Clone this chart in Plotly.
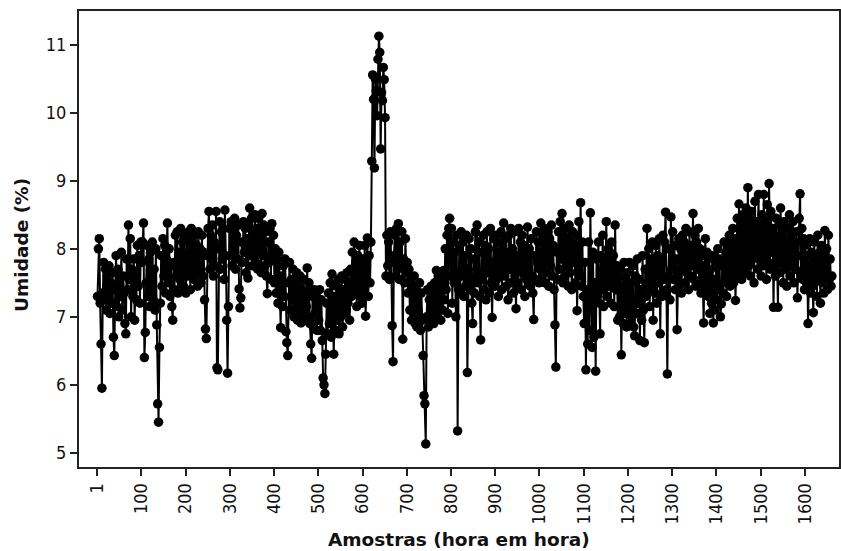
import plotly.graph_objects as go

# Sample index (every second hourly sample)
amostras = list(range(1, 1662, 2))

# Moisture values (%), 10 values per row (20 samples)
umidade = [
    # 1 - 99
    7.30, 8.00, 8.15, 7.20, 6.60, 5.95, 7.35, 7.80, 7.25, 7.70,
    7.10, 7.60, 7.35, 7.75, 7.05, 7.50, 7.20, 7.65, 6.70, 6.43,
    7.40, 7.90, 7.15, 7.70, 7.00, 7.55, 7.30, 7.95, 7.10, 7.60,
    7.35, 6.90, 6.75, 7.85, 7.40, 8.35, 7.55, 8.15, 7.00, 7.70,
    7.30, 7.85, 6.95, 7.60, 7.25, 8.05, 7.45, 7.90, 7.20, 8.10,
    # 101 - 199
    7.80, 8.10, 8.38, 6.40, 6.77, 7.50, 8.05, 7.30, 7.85, 7.15,
    7.95, 7.40, 8.10, 7.25, 7.70, 7.10, 8.00, 6.88, 5.72, 5.45,
    6.55, 7.20, 7.90, 7.45, 8.15, 7.60, 8.05, 7.35, 7.85, 8.38,
    7.50, 8.00, 7.30, 7.75, 7.15, 6.95, 7.80, 7.40, 8.20, 7.60,
    8.25, 7.35, 7.95, 7.55, 8.30, 7.70, 8.10, 7.45, 8.20, 7.65,
    # 201 - 299
    7.35, 8.15, 7.60, 8.25, 7.80, 7.40, 8.30, 7.70, 8.10, 7.55,
    8.20, 7.65, 8.05, 7.45, 8.25, 7.75, 8.00, 7.50, 8.20, 7.60,
    7.95, 7.25, 6.82, 6.68, 7.90, 8.30, 8.55, 7.70, 8.20, 7.85,
    8.35, 7.60, 8.10, 7.75, 8.55, 6.25, 6.22, 8.00, 8.40, 7.70,
    8.25, 7.85, 8.30, 7.55, 8.57, 7.90, 6.95, 6.17, 7.15, 8.30,
    # 301 - 399
    7.90, 8.40, 7.75, 8.30, 7.95, 8.45, 7.70, 8.20, 7.85, 8.35,
    7.41, 7.13, 7.28, 8.10, 7.80, 8.40, 7.95, 8.30, 7.65, 8.15,
    7.57, 8.35, 8.60, 7.90, 8.45, 7.75, 8.25, 8.00, 8.50, 7.80,
    8.30, 7.70, 8.45, 7.95, 8.20, 7.65, 8.52, 7.90, 8.35, 7.75,
    8.25, 7.60, 7.34, 8.10, 7.80, 8.30, 7.55, 8.37, 7.85, 8.20,
    # 401 - 499
    7.50, 8.00, 7.35, 7.85, 7.20, 7.95, 7.40, 6.84, 7.60, 7.15,
    7.75, 7.30, 7.85, 6.78, 6.62, 6.43, 7.50, 7.80, 7.10, 7.55,
    7.25, 7.70, 7.00, 7.55, 7.20, 7.65, 6.95, 7.45, 7.10, 7.60,
    6.91, 7.40, 7.05, 7.55, 6.95, 7.35, 7.15, 7.72, 7.00, 7.50,
    6.90, 6.60, 6.39, 7.30, 6.85, 7.40, 7.05, 7.30, 6.80, 7.20,
    # 501 - 599
    6.95, 7.40, 6.80, 7.25, 6.65, 6.10, 6.00, 5.87, 6.45, 7.20,
    6.75, 7.35, 6.90, 7.50, 6.70, 7.63, 7.05, 6.45, 7.30, 6.80,
    7.45, 6.95, 7.55, 6.75, 7.35, 7.00, 7.60, 6.85, 7.40, 7.05,
    7.55, 7.10, 7.65, 7.20, 7.50, 6.95, 7.70, 7.30, 7.95, 7.45,
    8.10, 7.35, 7.80, 7.15, 7.90, 7.45, 8.05, 7.30, 7.75, 7.20,
    # 601 - 699 (peak around 620 - 650)
    7.85, 7.40, 8.05, 7.01, 7.55, 8.16, 7.30, 7.90, 7.50, 8.10,
    9.29, 10.56, 10.20, 9.19, 10.50, 10.33, 9.96, 10.79, 11.13, 10.89,
    9.47, 10.30, 10.18, 10.67, 10.49, 9.93, 7.60, 8.20, 7.75, 8.10,
    7.55, 8.25, 7.80, 6.87, 6.34, 7.90, 8.20, 7.60, 8.30, 7.70,
    8.37, 7.55, 8.10, 7.75, 8.25, 6.67, 7.85, 7.50, 8.15, 7.65,
    # 701 - 799
    7.80, 7.35, 7.70, 7.10, 7.55, 6.95, 7.45, 7.05, 7.60, 6.90,
    7.40, 6.85, 7.30, 7.00, 7.50, 6.80, 7.35, 6.95, 6.43, 5.84,
    5.72, 5.13, 7.00, 7.40, 6.85, 7.25, 6.95, 7.45, 7.05, 7.35,
    6.90, 7.50, 7.10, 7.68, 7.00, 7.60, 7.20, 7.65, 6.95, 7.55,
    7.10, 7.68, 7.25, 8.00, 7.40, 8.20, 7.05, 8.30, 8.45, 7.60,
    # 801 - 899
    8.30, 7.20, 8.10, 7.50, 7.95, 7.00, 8.20, 5.32, 7.40, 8.05,
    7.35, 8.25, 7.60, 8.10, 7.30, 7.90, 7.45, 8.20, 6.18, 7.70,
    8.15, 7.40, 8.00, 7.20, 6.90, 7.85, 7.35, 8.25, 7.60, 8.35,
    7.50, 8.10, 7.30, 6.66, 7.95, 7.55, 8.20, 7.40, 8.05, 7.25,
    8.25, 7.65, 8.00, 7.35, 8.30, 7.50, 6.99, 7.80, 8.15, 7.45,
    # 901 - 999
    8.20, 7.55, 8.10, 7.30, 7.95, 7.65, 8.25, 7.40, 8.05, 8.38,
    7.60, 8.15, 7.45, 7.95, 7.25, 8.20, 7.70, 8.30, 7.50, 8.00,
    7.35, 8.25, 7.60, 7.12, 7.90, 7.50, 8.30, 7.75, 8.10, 7.40,
    8.20, 7.65, 8.05, 7.30, 7.95, 7.55, 8.32, 7.70, 8.00, 7.45,
    8.15, 7.60, 7.35, 6.96, 7.90, 7.55, 8.25, 7.80, 8.10, 7.50,
    # 1001 - 1099
    7.70, 8.38, 7.55, 8.20, 7.80, 8.30, 7.50, 8.10, 7.65, 8.25,
    7.45, 8.15, 7.75, 8.35, 7.60, 8.05, 7.40, 6.88, 6.26, 7.95,
    7.55, 8.25, 7.70, 8.40, 7.85, 8.52, 7.50, 8.20, 7.60, 8.30,
    7.75, 8.15, 7.45, 8.35, 7.65, 8.10, 7.40, 8.25, 7.80, 8.05,
    7.50, 8.20, 7.09, 7.85, 8.40, 7.60, 8.68, 7.45, 8.10, 7.30,
    # 1101 - 1199
    6.90, 7.80, 6.22, 7.40, 6.60, 8.10, 6.80, 8.53, 7.20, 6.55,
    7.95, 6.70, 7.50, 6.20, 7.85, 7.30, 8.10, 7.20, 6.75, 7.90,
    7.40, 8.20, 7.15, 7.85, 7.50, 8.40, 7.30, 8.00, 7.45, 7.95,
    7.20, 8.10, 7.55, 7.90, 7.15, 8.35, 7.40, 7.75, 6.95, 7.60,
    7.00, 7.70, 6.44, 7.45, 6.90, 7.80, 7.05, 7.55, 6.85, 7.65,
    # 1201 - 1299
    7.10, 7.80, 6.90, 7.50, 7.00, 7.75, 6.85, 6.72, 7.60, 7.05,
    7.85, 7.20, 7.55, 6.65, 7.40, 6.95, 7.90, 7.10, 6.62, 7.70,
    7.30, 8.30, 7.50, 8.00, 7.15, 7.85, 7.40, 8.10, 6.95, 7.75,
    7.35, 8.05, 7.20, 7.90, 7.50, 8.15, 6.75, 7.80, 7.30, 8.20,
    7.55, 8.10, 8.54, 7.40, 6.16, 7.60, 8.00, 7.25, 8.47, 7.70,
    # 1301 - 1399
    8.25, 7.55, 8.05, 7.40, 7.85, 6.81, 7.60, 8.15, 7.45, 8.00,
    7.35, 8.20, 7.70, 8.10, 7.50, 8.30, 7.65, 7.95, 7.40, 8.25,
    7.60, 8.05, 7.75, 8.52, 7.55, 8.20, 7.45, 8.10, 7.70, 8.30,
    7.50, 8.00, 7.35, 7.90, 7.60, 6.91, 7.75, 8.15, 7.40, 7.95,
    7.30, 7.85, 7.05, 7.70, 7.20, 7.90, 6.91, 7.55, 7.10, 7.80,
    # 1401 - 1499
    7.25, 8.00, 7.40, 7.85, 7.00, 7.19, 7.75, 7.35, 8.10, 7.50,
    7.95, 7.30, 8.05, 7.55, 8.20, 7.45, 8.10, 7.60, 8.30, 7.50,
    8.15, 7.24, 7.85, 8.45, 7.60, 8.66, 7.70, 8.30, 7.55, 8.50,
    7.80, 8.40, 7.65, 8.60, 7.90, 8.90, 7.75, 8.45, 7.60, 8.55,
    7.85, 8.35, 7.50, 8.70, 7.95, 8.40, 7.70, 8.80, 7.85, 8.30,
    # 1501 - 1599
    7.60, 8.50, 7.75, 8.80, 7.90, 8.40, 7.55, 8.65, 7.80, 8.96,
    7.70, 8.55, 7.95, 8.30, 7.14, 8.20, 7.60, 8.45, 7.85, 7.14,
    8.35, 7.65, 8.60, 7.80, 8.25, 7.50, 8.40, 7.70, 8.15, 7.45,
    8.30, 7.75, 8.50, 7.60, 8.20, 7.85, 8.40, 7.50, 8.10, 7.70,
    8.25, 7.28, 7.90, 8.45, 8.81, 7.65, 8.30, 7.55, 8.15, 7.40,
    # 1601 - 1661
    8.05, 7.50, 7.90, 6.90, 7.75, 8.15, 7.35, 7.95, 7.45, 7.06,
    8.10, 7.55, 7.85, 7.30, 8.20, 7.60, 7.95, 7.20, 8.05, 7.50,
    7.90, 7.35, 8.27, 7.65, 8.00, 7.40, 8.20, 7.55, 7.85, 7.45,
    7.60,
]

x_ticks = [1, 100, 200, 300, 400, 500, 600, 700, 800, 900, 1000, 1100, 1200, 1300, 1400, 1500, 1600]
x_ticktext = [str(v) for v in x_ticks]
y_ticks = [5, 6, 7, 8, 9, 10, 11]

assert len(amostras) == len(umidade), (len(amostras), len(umidade))

fig = go.Figure(
    go.Scatter(
        x=amostras,
        y=umidade,
        mode="lines+markers",
        line=dict(color="black", width=2),
        marker=dict(color="black", size=9.5),
        showlegend=False,
        hoverinfo="x+y",
    )
)

tick_font = dict(family="DejaVu Sans Condensed, DejaVu Sans", size=18, color="#111111")

axis_style = dict(
    showline=True,
    linewidth=2,
    linecolor="#222222",
    mirror=True,
    ticks="outside",
    ticklen=7,
    tickwidth=1.5,
    tickcolor="#222222",
    showgrid=False,
    zeroline=False,
    tickfont=tick_font,
)

fig.update_layout(
    width=841,
    height=551,
    margin=dict(l=79, r=0, t=11, b=84),
    paper_bgcolor="white",
    plot_bgcolor="white",
    font=dict(family="DejaVu Sans", color="#111111"),
    xaxis=dict(
        range=[-40.8, 1677],
        tickvals=x_ticks,
        ticktext=x_ticktext,
        tickangle=-90,
        **axis_style,
    ),
    yaxis=dict(
        range=[4.79, 11.5],
        tickvals=y_ticks,
        **axis_style,
    ),
    annotations=[
        dict(
            text="<b>Amostras (hora em hora)</b>",
            xref="paper", yref="paper",
            x=0.5, y=-0.16,
            xanchor="center", yanchor="middle",
            showarrow=False,
            font=dict(family="DejaVu Sans", size=18.5, color="#111111"),
        ),
        dict(
            text="<b>Umidade (%)</b>",
            xref="paper", yref="paper",
            x=-0.075, y=0.487,
            xanchor="center", yanchor="middle",
            textangle=-90,
            showarrow=False,
            font=dict(family="DejaVu Sans", size=18.5, color="#111111"),
        ),
    ],
)

fig.write_html(
    "out.html",
    config={"displayModeBar": False},
    post_script="document.body.style.margin='0';",
)
